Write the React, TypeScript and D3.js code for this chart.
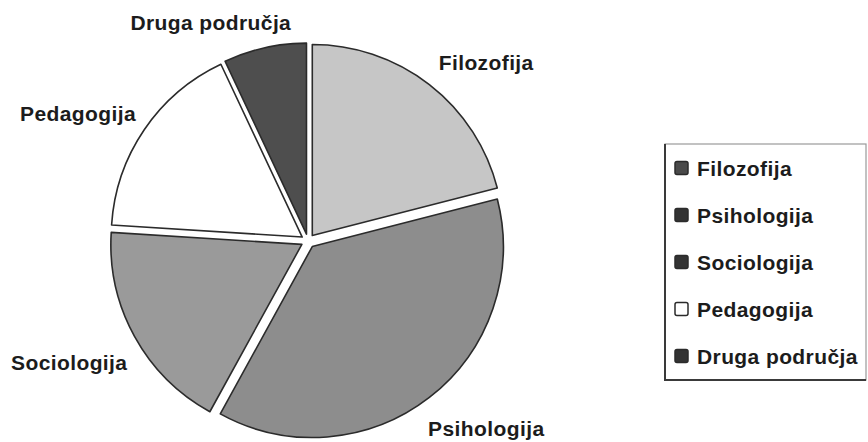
import { useRef, useEffect } from "react";
import * as d3 from "d3";

// data, clockwise from 12 o'clock
const categories = ["Filozofija", "Psihologija", "Sociologija", "Pedagogija", "Druga područja"];
const shares = [21, 37, 18, 17, 7];
const sliceColors = ["#c6c6c6", "#8d8d8d", "#9a9a9a", "#ffffff", "#4e4e4e"];
const legendColors = ["#4a4a4a", "#333333", "#333333", "#ffffff", "#333333"];

// label placement: [angle in degrees from 12 o'clock, distance from centre]
const labelPolar: [number, number][] = [
  [45, 252],
  [136.5, 259],
  [243, 268],
  [299, 263],
  [336, 239],
];

export default function App() {
  const svgRef = useRef<SVGSVGElement>(null);

  useEffect(() => {
    document.body.style.margin = "0";

    const width = 868;
    const height = 442;
    const cx = 308;
    const cy = 241;
    const radius = 191;
    const explode = 7;
    const font = "'Liberation Sans', Arial, sans-serif";

    const svg = d3.select(svgRef.current)
      .attr("width", width)
      .attr("height", height)
      .style("display", "block")
      .style("background", "#ffffff");

    svg.selectAll("*").remove();

    const pie = d3.pie<number>().sort(null).value(d => d);
    const arcs = pie(shares);
    const arc = d3.arc<d3.PieArcDatum<number>>().innerRadius(0).outerRadius(radius);

    const g = svg.append("g").attr("transform", `translate(${cx},${cy})`);

    g.selectAll("path")
      .data(arcs)
      .join("path")
      .attr("transform", d => {
        const a = (d.startAngle + d.endAngle) / 2;
        return `translate(${Math.sin(a) * explode},${-Math.cos(a) * explode})`;
      })
      .attr("d", arc)
      .attr("fill", (d, i) => sliceColors[i])
      .attr("stroke", "#2b2b2b")
      .attr("stroke-width", 1.6)
      .attr("stroke-linejoin", "round");

    // slice labels
    g.selectAll("text.label")
      .data(categories)
      .join("text")
      .attr("class", "label")
      .attr("x", (d, i) => Math.sin((labelPolar[i][0] * Math.PI) / 180) * labelPolar[i][1])
      .attr("y", (d, i) => -Math.cos((labelPolar[i][0] * Math.PI) / 180) * labelPolar[i][1])
      .attr("text-anchor", "middle")
      .attr("dominant-baseline", "central")
      .attr("font-family", font)
      .attr("font-weight", "bold")
      .attr("font-size", 21)
      .attr("letter-spacing", 0.4)
      .attr("fill", "#1c1c1c")
      .text(d => d);

    // legend
    const lx = 665;
    const ly = 144;
    const lw = 201;
    const lh = 236;
    const legend = svg.append("g");

    legend.append("rect")
      .attr("x", lx)
      .attr("y", ly)
      .attr("width", lw)
      .attr("height", lh)
      .attr("fill", "#ffffff")
      .attr("stroke", "#9a9a9a")
      .attr("stroke-width", 1.2);

    legend.append("path")
      .attr("d", `M${lx},${ly} V${ly + lh} H${lx + lw}`)
      .attr("fill", "none")
      .attr("stroke", "#3a3a3a")
      .attr("stroke-width", 2);

    const rowY = d3.scalePoint<string>()
      .domain(categories)
      .range([ly + 24, ly + 212]);

    const items = legend.selectAll("g.item")
      .data(categories)
      .join("g")
      .attr("class", "item")
      .attr("transform", d => `translate(${lx + 10},${rowY(d)})`);

    items.append("rect")
      .attr("x", 0)
      .attr("y", -6.5)
      .attr("width", 13)
      .attr("height", 13)
      .attr("rx", 2)
      .attr("fill", (d, i) => legendColors[i])
      .attr("stroke", "#2b2b2b")
      .attr("stroke-width", 1.5);

    items.append("text")
      .attr("x", 22)
      .attr("y", 0)
      .attr("dominant-baseline", "central")
      .attr("font-family", font)
      .attr("font-weight", "bold")
      .attr("font-size", 21)
      .attr("letter-spacing", 0.4)
      .attr("fill", "#1c1c1c")
      .text(d => d);
  }, []);

  return <svg ref={svgRef}></svg>;
}
